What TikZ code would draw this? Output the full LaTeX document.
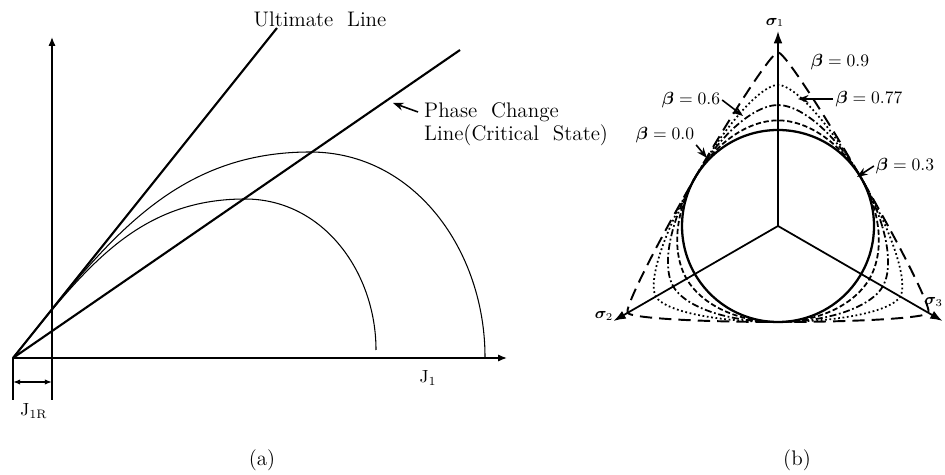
\documentclass[tikz,border=0pt]{standalone}
\usepackage{amsmath}
\usepackage{amssymb}
\usepackage{bm}
\usepackage{tikz}
\usetikzlibrary{arrows.meta,calc}

% Willam-Warnke type deviatoric section, \p = r_c/r_t
\tikzset{
  declare function={
    wwc(\a)=cos(acos(min(1,max(-1,sin(3*\a))))/3);
    ww(\a,\p)=(2*\p*(\p*\p-1)*wwc(\a)+\p*(2-\p)*sqrt(4*(\p*\p-1)*wwc(\a)*wwc(\a)+5-4*\p))/(4*(\p*\p-1)*wwc(\a)*wwc(\a)+(\p-2)*(\p-2));
  }
}

\begin{document}
\begin{tikzpicture}[x=0.02cm,y=0.02cm,
    axisline/.style={line width=0.8pt},
    envline/.style={line width=1.2pt},
    yieldarc/.style={line width=0.6pt},
    ptr/.style={line width=0.9pt,-{Stealth[length=6pt,width=4.5pt]}},
    devaxis/.style={line width=1pt,-{Latex[length=7pt,width=5pt]}},
    lbl/.style={inner sep=1pt}]

    \useasboundingbox (0,0) rectangle (945,-475);

    % (a) Axes
    \coordinate (O) at (13,-358);
    \coordinate (xend) at (507,-358);
    \coordinate (ybot) at (52,-400);
    \coordinate (ytop) at (52,-37);
    \coordinate (obot) at (13,-400);
    \draw[axisline,-{Latex[length=5pt,width=4pt]}] (O) -- (xend);
    \draw[axisline,-{Latex[length=5pt,width=4pt]}] (ybot) -- (ytop);
    \draw[axisline] (O) -- (obot);

    % J_1R offset
    \coordinate (dl) at (13,-382);
    \coordinate (dr) at (52,-382);
    \draw[line width=0.8pt,{Latex[length=4pt,width=3pt]}-{Latex[length=4pt,width=3pt]}] (dl) -- (dr);
    \node (j1r) at (34,-411) {J$_{\mathrm{1R}}$};
    \node (j1) at (428,-378) {J$_{1}$};

    % Ultimate and phase change lines
    \node[font=\large] (ult) at (320,-19) {Ultimate\ \ Line};
    \coordinate (ultend) at (277,-28);
    \draw[envline] (O) -- (ultend);
    \coordinate (pcend) at (460,-50);
    \draw[envline] (O) -- (pcend);
    \node[anchor=west,font=\large] (pc1) at (418,-112) {Phase\ \ Change};
    \node[anchor=west,font=\large] (pc2) at (418,-135) {Line(Critical\ \ State)};
    \coordinate (pctip) at (393,-103);
    \draw[ptr] (pc1.west) -- (pctip);

    % Yield arcs
    \coordinate (pk1) at (245,-199);
    \coordinate (e1) at (376,-350);
    \coordinate (pk2) at (310,-152);
    \coordinate (e2) at (485,-357);
    \draw[yieldarc] (O) to[out=51,in=180] (pk1) to[out=0,in=90] (e1);
    \draw[yieldarc] (O) to[out=51,in=180] (pk2) to[out=0,in=90] (e2);

    % (b) Deviatoric plane
    \coordinate (C) at (778,-226);
    \coordinate (s1) at ($(C)+(90:195)$);
    \coordinate (s2) at ($(C)+(210:190)$);
    \coordinate (s3) at ($(C)+(330:190)$);
    \draw[devaxis] (C) -- (s1);
    \draw[devaxis] (C) -- (s2);
    \draw[devaxis] (C) -- (s3);
    \node[lbl,anchor=south] (s1lbl) at (775,-29) {\small$\bm{\sigma}_1$};
    \node[lbl] (s2lbl) at (604,-316) {\small$\bm{\sigma}_2$};
    \node[lbl,anchor=east] (s3lbl) at (945,-302) {\small$\bm{\sigma}_3$};

    % Sections for each beta
    \draw[line width=1.3pt] (C) circle (96);
    \draw[line width=1pt,dash pattern=on 3pt off 1.5pt]
        plot[domain=0:360,samples=241,smooth] ({778+96*ww(\x,1.10)*cos(\x)},{-226+96*ww(\x,1.10)*sin(\x)});
    \draw[line width=1pt,dash pattern=on 4pt off 1.5pt on 1pt off 1.5pt]
        plot[domain=0:360,samples=241,smooth] ({778+96*ww(\x,1.26)*cos(\x)},{-226+96*ww(\x,1.26)*sin(\x)});
    \draw[line width=1pt,dash pattern=on 1pt off 1.5pt]
        plot[domain=0:360,samples=241,smooth] ({778+96*ww(\x,1.47)*cos(\x)},{-226+96*ww(\x,1.47)*sin(\x)});
    \draw[line width=1.1pt,dash pattern=on 7pt off 4pt]
        plot[domain=0:360,samples=241,smooth] ({778+96*ww(\x,1.81)*cos(\x)},{-226+96*ww(\x,1.81)*sin(\x)});

    % Beta labels
    \node[lbl] (b09) at (840,-62) {$\bm{\beta}=0.9$};
    \node[lbl] (b077) at (869,-99) {$\bm{\beta}=0.77$};
    \node[lbl] (b06) at (691,-100) {$\bm{\beta}=0.6$};
    \node[lbl] (b00) at (665,-135) {$\bm{\beta}=0.0$};
    \node[lbl] (b03) at (905,-166) {$\bm{\beta}=0.3$};
    \coordinate (p077) at (798,-99);
    \coordinate (p06) at (743,-116);
    \coordinate (p00) at (707,-158);
    \coordinate (p03) at (857,-177);
    \draw[ptr] (b077.west) -- (p077);
    \draw[ptr] (b06.east) -- (p06);
    \draw[ptr] (b00.south east) -- (p00);
    \draw[ptr] (b03.west) -- (p03);

    % Captions
    \node[font=\large] (capa) at (262,-460) {(a)};
    \node[font=\large] (capb) at (797,-460) {(b)};
\end{tikzpicture}
\end{document}
